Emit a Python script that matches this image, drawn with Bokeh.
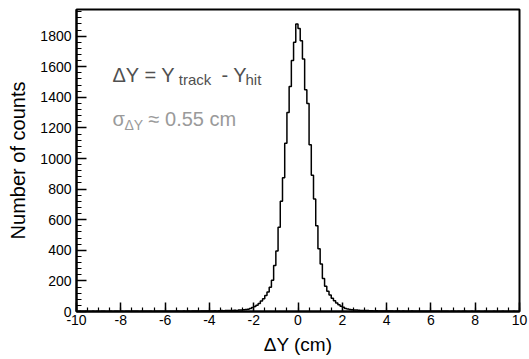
from bokeh.plotting import figure
from bokeh.models import FixedTicker, Label, Range1d
from bokeh.embed import file_html
from bokeh.resources import INLINE
import numpy as np

# ---- data ----
bin_low = -10.0
bin_width = 0.1

left_tail = [0, 1, 0, 0, 1, 0, 0, 1, 0, 1, 0, 1, 1, 0, 0, 1, 0, 1, 1, 0,
             1, 0, 1, 1, 0, 1, 2, 1, 0, 1, 1, 2, 1, 1, 0, 2, 1, 1, 2, 1,
             2, 1, 2, 2, 1, 3, 2, 2, 3, 2, 3, 2, 3, 3, 4, 2, 3, 4, 3, 4,
             4, 3, 5, 4, 5, 6, 5, 6, 7, 6]
core_left = [7, 8, 7, 9, 10, 11, 13, 15, 20, 26,
             32, 41, 53, 68, 84, 104, 128, 158, 205, 300,
             395, 550, 720, 875, 1100, 1300, 1470, 1640, 1760, 1880]
core_right = [1850, 1770, 1650, 1450, 1360, 1090, 890, 735, 560, 410,
              310, 215, 165, 132, 108, 86, 70, 55, 44, 34,
              27, 20, 16, 13, 11, 10, 9, 8, 7, 7]
right_tail = [6, 6, 5, 5, 4, 5, 4, 4, 3, 4,
              3, 3, 4, 2, 3, 3, 2, 3, 2, 2, 2, 3, 1, 2, 2, 1, 2, 1, 1, 2,
              1, 1, 2, 1, 0, 1, 1, 1, 0, 1, 1, 0, 1, 0, 1, 1, 0, 0, 1, 0,
              0, 1, 0, 0, 1, 0, 0, 0, 1, 0, 0, 0, 1, 0, 0, 0, 0, 1, 0, 0]
counts = left_tail + core_left + core_right + right_tail

x_ticks = [-10, -8, -6, -4, -2, 0, 2, 4, 6, 8, 10]
y_ticks = [0, 200, 400, 600, 800, 1000, 1200, 1400, 1600, 1800]
x_range = (-10, 10)
y_range = (0, 1974)

x_title = "ΔY (cm)"
y_title = "Number of counts"

FONT = "Arial"

edges = bin_low + bin_width * np.arange(len(counts) + 1)
ys = list(counts) + [counts[-1]]

p = figure(width=529, height=359, output_backend="svg", toolbar_location=None,
           x_range=Range1d(*x_range), y_range=Range1d(*y_range))
p.min_border_left = 76
p.min_border_right = 10
p.min_border_top = 9
p.min_border_bottom = 48
p.background_fill_color = "white"
p.border_fill_color = "white"
p.outline_line_color = "black"
p.outline_line_width = 2
p.xgrid.visible = False
p.ygrid.visible = False

p.step(x=edges, y=ys, mode="after", line_color="black", line_width=1.5)

p.xaxis.ticker = FixedTicker(ticks=x_ticks,
                             minor_ticks=list(np.arange(-10, 10.01, 0.5)))
p.yaxis.ticker = FixedTicker(ticks=y_ticks,
                             minor_ticks=list(np.arange(0, 1974, 40)))
p.xaxis.major_label_overrides = {t: str(t) for t in x_ticks}
p.yaxis.major_label_overrides = {t: str(t) for t in y_ticks}

for ax in (p.xaxis[0], p.yaxis[0]):
    ax.axis_line_width = 2
    ax.axis_line_color = "black"
    ax.major_tick_out = 0
    ax.minor_tick_out = 0
    ax.major_tick_line_width = 1.5
    ax.minor_tick_line_width = 1.2
    ax.major_label_text_font = FONT
    ax.major_label_text_font_size = "14px"
    ax.major_label_text_color = "black"
    ax.axis_label_text_font = FONT
    ax.axis_label_text_font_style = "normal"
    ax.axis_label_text_color = "black"

p.xaxis.axis_label_text_font_size = "19px"
p.yaxis.axis_label_text_font_size = "20px"
p.xaxis.major_tick_in = 9
p.xaxis.minor_tick_in = 4
p.yaxis.major_tick_in = 10
p.yaxis.minor_tick_in = 5
p.xaxis.major_label_standoff = 3
p.yaxis.major_label_standoff = 5
p.xaxis.axis_label_standoff = 6
p.yaxis.axis_label_standoff = 8
p.xaxis.axis_label = x_title
p.yaxis.axis_label = y_title

dark = "#505050"
light = "#9a9a9a"


def lab(x, y, text, size, color):
    p.add_layout(Label(x=x, y=y, text=text, text_font=FONT,
                       text_font_size=size, text_color=color,
                       text_baseline="alphabetic", text_align="left"))


# line 1: ΔY = Y_track - Y_hit
lab(-8.375, 1549, "ΔY = Y", "20px", dark)
lab(-5.38, 1516, "track", "15px", dark)
lab(-3.454, 1549, "- Y", "20px", dark)
lab(-2.37, 1516, "hit", "15px", dark)
# line 2: σ_ΔY ≈ 0.55 cm
lab(-8.375, 1255, "σ", "20px", light)
lab(-7.833, 1222, "ΔY", "14px", light)
lab(-6.75, 1255, "≈ 0.55 cm", "20px", light)

open("out.html", "w").write(file_html(p, INLINE))
